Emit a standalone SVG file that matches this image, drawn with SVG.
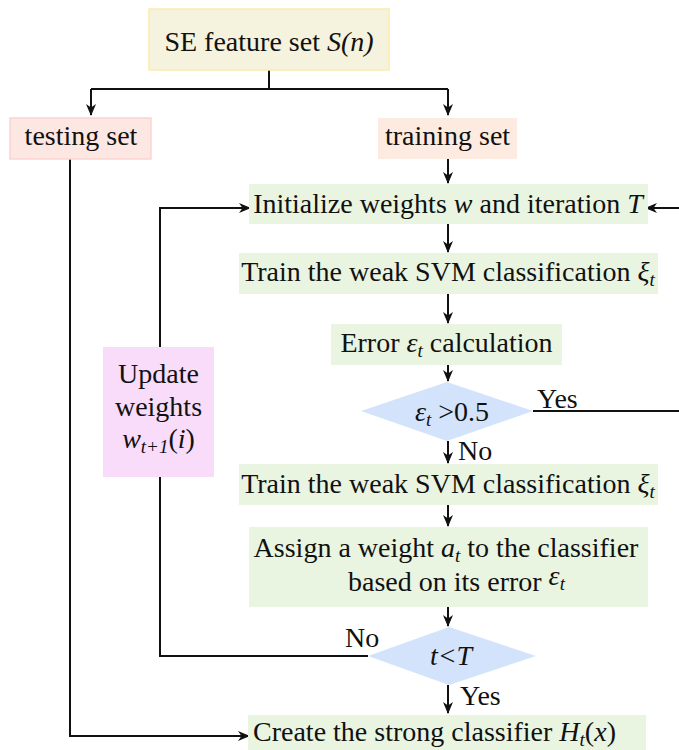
<svg xmlns="http://www.w3.org/2000/svg" width="679" height="750" viewBox="0 0 679 750">
  <defs>
    <marker id="arrow" viewBox="0 0 12 10" refX="11" refY="5" markerWidth="12" markerHeight="10" markerUnits="userSpaceOnUse" orient="auto">
      <path d="M0,0 L12,5 L0,10 L3.5,5 Z" fill="#111"/>
    </marker>
    <style>
      text { font-size: 28px; fill: #111; }
      .c { text-anchor: middle; }
      .i { font-style: italic; }
      .sub { font-size: 19px; font-style: italic; }
      .link { fill: none; stroke: #111; stroke-width: 2; }
      .arr { marker-end: url(#arrow); }
      .green { fill: #e9f5e1; }
      .dia { fill: #d4e3fc; }
    </style>
  </defs>

  <g font-family="Liberation Serif, serif">
  <!-- connectors -->
  <g id="connectors">
    <path class="link" d="M269,70 V89"/>
    <path class="link" d="M91,89 H448"/>
    <path class="link arr" d="M91,89 V115"/>
    <path class="link arr" d="M448,89 V115"/>
    <path class="link arr" d="M448,159 V183"/>
    <path class="link arr" d="M448,224 V252"/>
    <path class="link arr" d="M448,294 V323"/>
    <path class="link arr" d="M448,365 V381"/>
    <path class="link arr" d="M448,441 V463"/>
    <path class="link arr" d="M448,505 V526"/>
    <path class="link arr" d="M448,607 V626"/>
    <path class="link arr" d="M448,685 V713"/>
    <!-- error too high: restart (return path runs past the right edge) -->
    <path class="link arr" d="M533,411 H684 V208 H646"/>
    <!-- more rounds: update weights and loop -->
    <path class="link" d="M368,656 H160 V477"/>
    <path class="link arr" d="M160,347 V208 H250"/>
    <!-- testing set to final classifier -->
    <path class="link arr" d="M70,159 V736 H249"/>
  </g>

  <!-- edge labels -->
  <g id="labels">
    <text x="537" y="408">Yes</text>
    <text x="458" y="460">No</text>
    <text x="345" y="647">No</text>
    <text x="460" y="705">Yes</text>
  </g>

  <g id="se-set">
    <rect x="149" y="9" width="240" height="61" fill="#f5f2dd" stroke="#fcecb0" stroke-width="1.5"/>
    <text class="c" x="269" y="51">SE feature set <tspan class="i">S(n)</tspan></text>
  </g>

  <g id="testing-set">
    <rect x="10" y="118" width="141" height="41" fill="#fde7e3" stroke="#fbd4cf" stroke-width="1.5"/>
    <text class="c" x="81" y="145">testing set</text>
  </g>

  <g id="training-set">
    <rect x="378" y="118" width="139" height="41" fill="#fdebe1"/>
    <text class="c" x="447.5" y="145">training set</text>
  </g>

  <g id="initialize">
    <rect class="green" x="249" y="184" width="399" height="40"/>
    <text class="c" x="448" y="213">Initialize weights <tspan class="i">w</tspan> and iteration <tspan class="i">T</tspan></text>
  </g>

  <g id="train-weak-1">
    <rect class="green" x="239" y="253" width="419" height="41"/>
    <text class="c" x="448" y="281">Train the weak SVM classification <tspan class="i">ξ</tspan><tspan class="sub" dy="5">t</tspan></text>
  </g>

  <g id="error-calc">
    <rect class="green" x="331" y="324" width="231" height="41"/>
    <text class="c" x="446.5" y="352">Error <tspan class="i">ε</tspan><tspan class="sub" dy="5">t</tspan><tspan dy="-5"> calculation</tspan></text>
  </g>

  <g id="check-error">
    <polygon class="dia" points="447,382 533,411 447,441 361,411"/>
    <text x="415" y="421"><tspan class="i">ε</tspan><tspan class="sub" dy="5">t</tspan><tspan dy="-5"> &gt;0.5</tspan></text>
  </g>

  <g id="train-weak-2">
    <rect class="green" x="239" y="464" width="419" height="41"/>
    <text class="c" x="448" y="493">Train the weak SVM classification <tspan class="i">ξ</tspan><tspan class="sub" dy="5">t</tspan></text>
  </g>

  <g id="assign-weight">
    <rect class="green" x="249" y="527" width="399" height="80"/>
    <text class="c" x="446" y="557">Assign a weight <tspan class="i">a</tspan><tspan class="sub" dy="5">t</tspan><tspan dy="-5"> to the classifier</tspan></text>
    <text x="348" y="591">based on its error <tspan class="i" dy="-6">ε</tspan><tspan class="sub" dy="5">t</tspan></text>
  </g>

  <g id="check-iter">
    <polygon class="dia" points="449,627 536,656 449,685 368,656"/>
    <text class="c i" x="451" y="665">t&lt;T</text>
  </g>

  <g id="update-weights">
    <rect x="103" y="347" width="111" height="130" fill="#f8dcfa"/>
    <text class="c" x="158.5" y="383">Update</text>
    <text class="c" x="158.5" y="416">weights</text>
    <text class="c" x="158.5" y="448"><tspan class="i">w</tspan><tspan class="sub" dy="5">t+1</tspan><tspan dy="-5">(</tspan><tspan class="i">i</tspan>)</text>
  </g>

  <g id="strong-classifier">
    <rect class="green" x="248" y="715" width="398" height="35"/>
    <text x="253" y="741">Create the strong classifier <tspan class="i">H</tspan><tspan class="sub" dy="5">t</tspan><tspan dy="-5">(</tspan><tspan class="i">x</tspan>)</text>
  </g>
  </g>
</svg>
